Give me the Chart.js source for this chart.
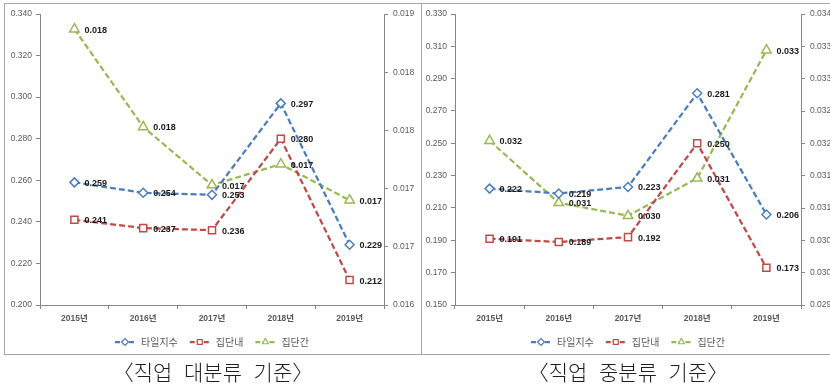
<!DOCTYPE html>
<html>
<head>
<meta charset="utf-8">
<script src="https://cdn.jsdelivr.net/npm/chart.js@4"></script>
<style>
  html, body { margin: 0; padding: 0; background: #fff; width: 830px; height: 387px; overflow: hidden; }
  .box { position: absolute; border: 1px solid #a6a6a6; box-sizing: border-box; }
  .holder { position: absolute; top: 0; width: 420px; height: 360px; }
  .cap { position: absolute; top: 356px; font-family: "Noto Sans CJK KR", sans-serif; font-size: 21px; font-weight: 300;
         line-height: 30px; color: #1e1e1e; text-align: center; white-space: pre; word-spacing: 7px; }
</style>
</head>
<body>
<div class="box" style="left:4px;top:3px;width:418px;height:352px"></div>
<div class="box" style="left:421px;top:3px;width:420px;height:352px"></div>
<div class="holder" style="left:0"><canvas id="major" width="420" height="360"></canvas></div>
<div class="holder" style="left:420px"><canvas id="middle" width="420" height="360"></canvas></div>
<div class="cap" style="left:0;width:426px">〈직업 대분류 기준〉</div>
<div class="cap" style="left:421px;width:414px">〈직업 중분류 기준〉</div>

<script>
// Category axis and series names
const years = ['2015년', '2016년', '2017년', '2018년', '2019년'];
const seriesNames = ['타일지수', '집단내', '집단간'];

// 직업 대분류 기준
const majorTheil   = [0.259, 0.254, 0.253, 0.297, 0.229];
const majorWithin  = [0.241, 0.237, 0.236, 0.280, 0.212];
const majorBetween = [0.01837, 0.01753, 0.01703, 0.01721, 0.01690];
const majorLeftRange  = [0.200, 0.340, 0.020];   // min, max, step
const majorRightRange = [0.0160, 0.0185, 0.0005];

// 직업 중분류 기준
const midTheil   = [0.222, 0.219, 0.223, 0.281, 0.206];
const midWithin  = [0.191, 0.189, 0.192, 0.250, 0.173];
const midBetween = [0.03154, 0.03058, 0.03038, 0.03096, 0.03294];
const midLeftRange  = [0.150, 0.330, 0.020];
const midRightRange = [0.0290, 0.0335, 0.0005];

const COLORS = ['#4a7ebb', '#be4b48', '#98b954'];
const STYLES = ['rectRot', 'rect', 'triangle'];
const RADII  = [4.5, 5, 5.5];
const AXIS_COLOR = '#868686';
const TEXT_COLOR = '#595959';
const NUM_FONT = '"Liberation Sans", "Noto Sans CJK KR", sans-serif';

// round half up to three decimals
function fmt3(v) {
  return (Math.round(Math.round(v * 1e4) / 10) / 1000).toFixed(3);
}

function makeDataset(i, data, axis) {
  return {
    label: seriesNames[i],
    data: data,
    yAxisID: axis,
    borderColor: COLORS[i],
    borderWidth: 2.25,
    borderDash: [6, 3],
    pointStyle: STYLES[i],
    pointRadius: RADII[i],
    pointHoverRadius: RADII[i],
    pointBorderColor: COLORS[i],
    pointBackgroundColor: '#ffffff',
    pointBorderWidth: 1.5,
    tension: 0,
    fill: false
  };
}

function yAxis(position, range, width, pad) {
  return {
    position: position,
    min: range[0],
    max: range[1],
    ticks: {
      stepSize: range[2],
      autoSkip: false,
      padding: pad,
      color: TEXT_COLOR,
      font: { family: NUM_FONT, size: 8.5 },
      callback: (v) => fmt3(v)
    },
    grid: { drawOnChartArea: false, drawTicks: true, tickLength: 4, color: AXIS_COLOR },
    border: { display: true, color: AXIS_COLOR },
    afterFit(scale) { scale.width = width; }
  };
}

// value labels to the right of each marker
const valueLabels = {
  id: 'valueLabels',
  afterDatasetsDraw(chart) {
    const ctx = chart.ctx;
    ctx.save();
    ctx.font = 'bold 9px ' + NUM_FONT;
    ctx.fillStyle = '#1a1a1a';
    ctx.textBaseline = 'middle';
    ctx.textAlign = 'left';
    chart.data.datasets.forEach((d, i) => {
      chart.getDatasetMeta(i).data.forEach((pt, j) => {
        ctx.fillText(d.data[j].toFixed(3), pt.x + 10, pt.y + 1);
      });
    });
    ctx.restore();
  }
};

// legend: dashed line sample with marker, then the series name
const lineLegend = {
  id: 'lineLegend',
  afterDraw(chart) {
    const ctx = chart.ctx;
    const sets = chart.data.datasets;
    const sampleW = 20, textGap = 6, itemGap = 12, y = 342;
    ctx.save();
    ctx.font = '10px "Noto Sans CJK KR", sans-serif';
    const widths = sets.map(d => sampleW + textGap + ctx.measureText(d.label).width);
    const total = widths.reduce((a, b) => a + b, 0) + itemGap * (sets.length - 1);
    let x = (chart.chartArea.left + chart.chartArea.right) / 2 - total / 2;
    sets.forEach((d, i) => {
      ctx.strokeStyle = d.borderColor;
      ctx.lineWidth = 2.25;
      ctx.setLineDash([5, 2]);
      ctx.beginPath();
      ctx.moveTo(x, y);
      ctx.lineTo(x + sampleW, y);
      ctx.stroke();
      ctx.setLineDash([]);
      ctx.fillStyle = '#ffffff';
      ctx.lineWidth = 1.2;
      Chart.helpers.drawPoint(ctx, { pointStyle: d.pointStyle, radius: 3.5, borderWidth: 1.2, rotation: 0 }, x + sampleW / 2, y);
      ctx.fillStyle = TEXT_COLOR;
      ctx.textBaseline = 'middle';
      ctx.fillText(d.label, x + sampleW + textGap, y);
      x += widths[i] + itemGap;
    });
    ctx.restore();
  }
};

function build(id, theil, within, between, leftRange, rightRange, leftW, rightW) {
  return new Chart(document.getElementById(id), {
    type: 'line',
    data: {
      labels: years,
      datasets: [
        makeDataset(0, theil, 'y'),
        makeDataset(1, within, 'y'),
        makeDataset(2, between, 'y1')
      ]
    },
    options: {
      responsive: false,
      animation: false,
      events: [],
      layout: { padding: { top: 14, bottom: 35, left: 0, right: 0 } },
      plugins: { legend: { display: false }, tooltip: { enabled: false } },
      scales: {
        x: {
          offset: true,
          grid: { offset: true, drawOnChartArea: false, drawTicks: true, tickLength: 4, color: AXIS_COLOR },
          border: { display: true, color: AXIS_COLOR },
          ticks: { padding: 5, maxRotation: 0, color: TEXT_COLOR, font: { family: NUM_FONT, size: 8.5, weight: 'bold' } },
          afterFit(scale) { scale.height = 20; }
        },
        y: yAxis('left', leftRange, leftW, 4),
        y1: yAxis('right', rightRange, rightW, 5)
      }
    },
    plugins: [valueLabels, lineLegend]
  });
}

build('major', majorTheil, majorWithin, majorBetween, majorLeftRange, majorRightRange, 40, 36);
build('middle', midTheil, midWithin, midBetween, midLeftRange, midRightRange, 35, 39);
</script>
</body>
</html>
